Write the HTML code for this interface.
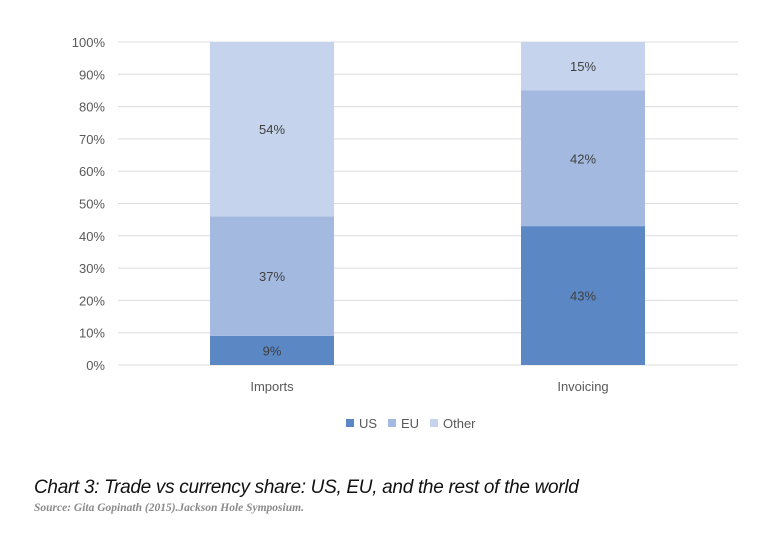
<!DOCTYPE html>
<html><head><meta charset="utf-8"><style>
body{margin:0;background:#fff;width:780px;height:544px;overflow:hidden;font-family:"Liberation Sans",sans-serif}
svg{position:absolute;left:0;top:0}
.cap{position:absolute;left:34px;top:477px;font-size:19px;font-style:italic;color:#111;letter-spacing:-0.3px;white-space:nowrap}
.src{position:absolute;left:34px;top:502px;font-family:"Liberation Serif",serif;font-size:11.5px;font-weight:bold;font-style:italic;color:#8a8a8a}
</style></head><body>
<svg id="chart" width="780" height="544"></svg>
<div class="cap">Chart 3: Trade vs currency share: US, EU, and the rest of the world</div>
<div class="src">Source: Gita Gopinath (2015).Jackson Hole Symposium.</div>
<script>
const categories=["Imports","Invoicing"];
const seriesNames=["US","EU","Other"];
const usValues=[9,43];
const euValues=[37,42];
const otherValues=[54,15];
const tickLabels=["0%","10%","20%","30%","40%","50%","60%","70%","80%","90%","100%"];
const colors=["#5b87c5","#a3b9df","#c5d4ec"];
const NS="http://www.w3.org/2000/svg";
const svg=document.getElementById("chart");
const x0=118,x1=738,y0=365,y1=42;
const y=v=>y0-(v/100)*(y0-y1);
const bw=124;
const xc=i=>x0+(x1-x0)*(i+0.5)/categories.length - (i===0?1:0);
function mk(t,a){const e=document.createElementNS(NS,t);for(const k in a)e.setAttribute(k,a[k]);svg.appendChild(e);return e;}
tickLabels.forEach((lab,i)=>{
 const v=i*10;
 const g=mk("line",{x1:x0,x2:x1,y1:y(v),y2:y(v),stroke:"#dcdcdc","stroke-width":1});
 
 
 const t=mk("text",{x:105,y:y(v)+5,"text-anchor":"end","font-size":13,fill:"#595959"});
 t.textContent=lab;
 
 
});
const series=[usValues,euValues,otherValues];
categories.forEach((c,i)=>{
 let base=0;
 series.forEach((arr,s)=>{
  const v=arr[i];
  const r=mk("rect",{x:xc(i)-bw/2,y:y(base+v),width:bw,height:y(base)-y(base+v),fill:colors[s]});
  
  
  const t=mk("text",{x:xc(i),y:(y(base)+y(base+v))/2+5,"text-anchor":"middle","font-size":13,fill:"#404040"});
  t.textContent=v+"%";
  
  
  base+=v;
 });
 const t=mk("text",{x:xc(i),y:391,"text-anchor":"middle","font-size":13,fill:"#595959"});
 t.textContent=c;
 
 
});
const lx=[346,388,430];
seriesNames.forEach((n,s)=>{
 const r=mk("rect",{x:lx[s],y:419,width:8,height:8,fill:colors[s]});
 
 
 const t=mk("text",{x:lx[s]+13,y:428,"font-size":13,fill:"#595959"});
 t.textContent=n;
 
 
});
</script>
</body></html>
